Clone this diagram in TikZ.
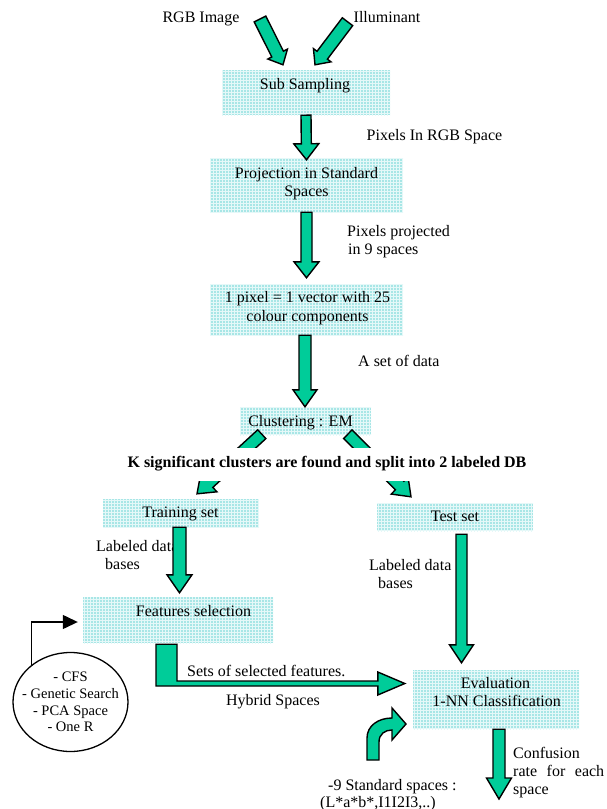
\documentclass[tikz,border=0pt]{standalone}
\usepackage{fontspec}
\setmainfont{Liberation Serif}
\usetikzlibrary{calc,shapes.geometric,arrows.meta,patterns}
\definecolor{arrowgreen}{RGB}{0,204,153}
\definecolor{boxcyan}{RGB}{168,230,230}
\newcommand\blockarrow[5]{%
  \path ($#2!#5!#1$) coordinate (ah);
  \draw[blockarrowstyle] ($#1!#3!90:#2$) -- ($(ah)!#3!90:#2$) -- ($(ah)!#4!90:#2$) -- #2 -- ($(ah)!#4!-90:#2$) -- ($(ah)!#3!-90:#2$) -- ($#1!#3!-90:#2$) -- cycle;
}
\tikzset{
  boxstyle/.style={rectangle, inner sep=0pt, fill=boxcyan, postaction={pattern=grid, pattern color=white!70!boxcyan}},
  txt/.style={font=\fontsize{16}{18.5}\selectfont, inner sep=0pt, anchor=base},
  ltxt/.style={txt, anchor=base west},
  blockarrowstyle/.style={fill=arrowgreen, draw=black, line width=1.4pt, line join=miter},
}
\begin{document}
\begin{tikzpicture}[x=1pt,y=-1pt]
\useasboundingbox (0,0) rectangle (606,809);
% boxes
\node[boxstyle, minimum width=168pt, minimum height=45pt] (subbox) at (306,92.5) {};
\node[boxstyle, minimum width=193pt, minimum height=54pt] (projbox) at (306.5,185) {};
\node[boxstyle, minimum width=193pt, minimum height=51pt] (vecbox) at (306.5,309.5) {};
\node[boxstyle, minimum width=131pt, minimum height=28pt] (clustbox) at (305.5,421) {};
\node[boxstyle, minimum width=156pt, minimum height=28pt] (trainbox) at (181,513) {};
\node[boxstyle, minimum width=156pt, minimum height=28pt] (testbox) at (455,517) {};
\node[boxstyle, minimum width=190pt, minimum height=46pt] (fsbox) at (178,620) {};
\node[boxstyle, minimum width=166pt, minimum height=59pt] (evalbox) at (496,699.5) {};
% texts
\node[txt] (rgb) at (201,22) {RGB Image};
\node[txt] (illum) at (387,22) {Illuminant};
\node[txt] (sub) at (305,89) {Sub Sampling};
\node[txt] (lab1) at (434.5,140) {Pixels In RGB Space};
\node[txt] (proja) at (306.5,178.5) {Projection in Standard};
\node[txt] (projb) at (306.5,196.5) {Spaces};
\node[ltxt] (lab2a) at (347,236) {Pixels projected};
\node[ltxt] (lab2b) at (348,254) {in 9 spaces};
\node[txt] (veca) at (307.5,302.7) {1 pixel = 1 vector with 25};
\node[txt] (vecb) at (307.5,321.7) {colour components};
\node[ltxt] (lab3) at (358,366.7) {A set of data};
\node[txt] (clust) at (300.5,426.7) {Clustering : EM};
\node[txt] (train) at (180.5,517) {Training set};
\node[txt] (test) at (455,521.7) {Test set};
\node[ltxt] (lab4a) at (96,551.7) {Labeled data};
\node[ltxt] (lab4b) at (105,569) {bases};
\node[ltxt] (lab5a) at (369,570) {Labeled data};
\node[ltxt] (lab5b) at (378,588) {bases};
\node[txt] (fs) at (193.5,616.7) {Features selection};
\node[ltxt] (lab6) at (187,676.7) {Sets of selected features.};
\node[txt] (lab7) at (273,705) {Hybrid Spaces};
\node[txt] (evala) at (495.5,688.3) {Evaluation};
\node[txt] (evalb) at (496.7,706.7) {1-NN Classification};
\node[ltxt] (lab8a) at (328,790) {-9 Standard spaces :};
\node[ltxt] (lab8b) at (320,807) {(L*a*b*,I1I2I3,..)};
\node[ltxt] (lab9a) at (513,758) {Confusion};
\node[ltxt] (lab9b) at (513,776.7) {\makebox[91pt][s]{rate for each}};
\node[ltxt] (lab9c) at (513,794) {space};
% ellipse
\node[ellipse, draw, line width=1.3pt, minimum width=115pt, minimum height=99pt, inner sep=0pt] (ell) at (70.5,702) {};
\node[align=center, inner sep=0pt, font=\fontsize{14.5}{16.7}\selectfont] (elltext) at (ell.center) {- CFS\\- Genetic Search\\- PCA Space\\- One R};
\draw[line width=1.3pt, -{Triangle[length=15pt,width=14pt]}] (ell.136) |- ([xshift=-5pt,yshift=-2pt]fsbox.west);
% block arrows
\coordinate (rgbtail) at (260,19);
\coordinate (illtail) at (347.5,21.7);
\coordinate (rgbtip) at ($(subbox.north)+(-23,-5)$);
\coordinate (illtip) at ($(subbox.north)+(9,-5)$);
\blockarrow{(rgbtail)}{(rgbtip)}{6.5pt}{11pt}{12pt}
\blockarrow{(illtail)}{(illtip)}{6.5pt}{11pt}{12pt}
\coordinate (t2) at ($(projbox.north)+(0,2)$);
\blockarrow{(subbox.south)}{(t2)}{5pt}{12.5pt}{16pt}
\coordinate (t3) at ($(vecbox.north)+(0,-6)$);
\blockarrow{(projbox.south)}{(t3)}{5.5pt}{12.5pt}{16pt}
\coordinate (s4) at ($(vecbox.south)+(-1.5,0)$);
\coordinate (t4) at ($(clustbox.north)+(-0.5,0)$);
\blockarrow{(s4)}{(t4)}{6pt}{12pt}{17pt}
\coordinate (s5) at ($(clustbox.south west)+(22,-1)$);
\coordinate (t5) at ($(trainbox.north)+(16,-5)$);
\blockarrow{(s5)}{(t5)}{6pt}{12pt}{16pt}
\coordinate (s6) at ($(clustbox.south west)+(108,-1)$);
\coordinate (t6) at ($(testbox.north)+(-44,-6)$);
\blockarrow{(s6)}{(t6)}{6pt}{12pt}{16pt}
\coordinate (s7) at ($(trainbox.south)+(-1.5,0)$);
\coordinate (t7) at ($(fsbox.north)+(1.5,-4)$);
\blockarrow{(s7)}{(t7)}{6.5pt}{12.5pt}{18pt}
\coordinate (s8) at ($(testbox.south)+(6.5,3)$);
\coordinate (t8) at ($(evalbox.north)+(-34.5,-7)$);
\blockarrow{(s8)}{(t8)}{5.5pt}{12pt}{18pt}
\coordinate (s9) at ($(evalbox.south)+(3,0)$);
\coordinate (t9) at (499,799);
\blockarrow{(s9)}{(t9)}{6pt}{12.5pt}{21pt}
% bent arrow features -> evaluation
\coordinate (bt) at ($(fsbox.south)+(-22,1)$);
\coordinate (btip) at ($(evalbox.west)+(-8,-16)$);
\draw[blockarrowstyle] (bt) -- ++(21,0) |- ($(btip)+(-27,-2.5)$) -- ++(0,-9) -- (btip) -- ++(-27,11.5) -- ++(0,-9) -| (bt) -- cycle;
% curved arrow (standard spaces)
\draw[blockarrowstyle] (367,760) -- (367,738) .. controls (367,726) and (378,718) .. (392,718) -- (392,708) -- (406,724) -- (392,740) -- (392,730) .. controls (385,730) and (379,734) .. (379,742) -- (379,760) -- cycle;
% bold caption over the split arrows
\node[txt, font=\fontsize{16}{18.5}\bfseries, fill=white, text height=17pt, text depth=12pt, inner ysep=2pt, inner xsep=4pt] (split) at (327,467) {K significant clusters are found and split into 2 labeled DB};
\end{tikzpicture}
\end{document}
